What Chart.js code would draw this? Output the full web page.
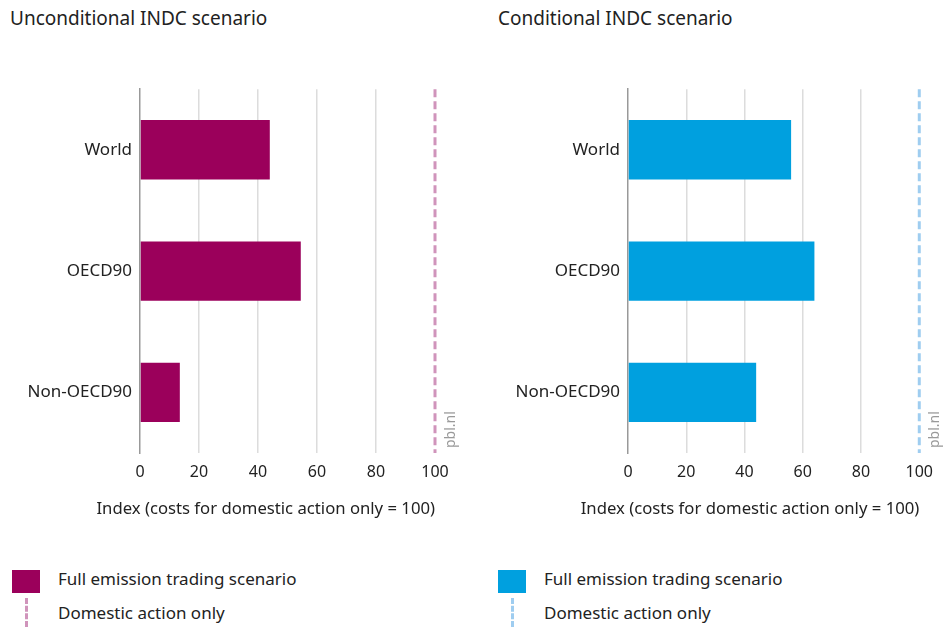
<!DOCTYPE html>
<html>
<head>
<meta charset="utf-8">
<script src="https://cdn.jsdelivr.net/npm/chart.js@4/dist/chart.umd.min.js"></script>
<style>
  body { margin: 0; background: #fff; font-family: 'Noto Sans', sans-serif; color: #222; }
  #page { position: relative; width: 943px; height: 629px; overflow: hidden; }
  .title { position: absolute; top: 5px; font-size: 19px; }
  .box { position: absolute; }
  .legend { position: absolute; top: 566px; font-size: 17px; }
  .swatch { position: absolute; left: 0; top: 4px; width: 28px; height: 23px; }
  .dash { position: absolute; left: 13px; top: 32px; height: 29px; width: 0; border-left: 3px dashed; }
  .label { position: absolute; left: 46px; top: 1px; white-space: nowrap; }
</style>
</head>
<body>
<div id="page">
  <div class="title" style="left:10px">Unconditional INDC scenario</div>
  <div class="title" style="left:498px">Conditional INDC scenario</div>

  <div class="box" style="left:0; top:71px; width:470px; height:452px;"><canvas id="leftChart"></canvas></div>
  <div class="box" style="left:490px; top:71px; width:453px; height:452px;"><canvas id="rightChart"></canvas></div>

  <div class="legend" style="left:12px">
    <div class="swatch" style="background:#9b005b"></div>
    <div class="label">Full emission trading scenario</div>
    <div class="dash" style="border-color:#d094bb"></div>
    <div class="label" style="top:35px">Domestic action only</div>
  </div>
  <div class="legend" style="left:498px">
    <div class="swatch" style="background:#00a0df"></div>
    <div class="label">Full emission trading scenario</div>
    <div class="dash" style="border-color:#9fcdf0"></div>
    <div class="label" style="top:35px">Domestic action only</div>
  </div>
</div>

<script>
const categories = ['World', 'OECD90', 'Non-OECD90'];
const unconditionalValues = [44, 54.5, 13.5];
const conditionalValues = [56, 64, 44];
const domesticOnly = 100;
const xTicks = [0, 20, 40, 60, 80, 100];
const axisTitle = 'Index (costs for domestic action only = 100)';

const tickFont = { family: "'Noto Sans', sans-serif", size: 16 };
const catFont = { family: "'Noto Sans', sans-serif", size: 17 };

// dashed "domestic action only" line, the pbl.nl tag and the axis title
// (drawn here so the title may run wider than the plot without squeezing)
const domesticLine = {
    id: 'domesticLine',
    afterDatasetsDraw(chart, args, opts) {
        const ctx = chart.ctx;
        const area = chart.chartArea;
        const x = chart.scales.x.getPixelForValue(domesticOnly);
        ctx.save();
        ctx.strokeStyle = opts.color;
        ctx.lineWidth = 3;
        ctx.setLineDash([8, 4]);
        ctx.beginPath();
        ctx.moveTo(x, area.top);
        ctx.lineTo(x, area.bottom);
        ctx.stroke();
        ctx.setLineDash([]);

        ctx.fillStyle = '#222';
        ctx.font = "16.7px 'Noto Sans', sans-serif";
        ctx.textAlign = 'right';
        ctx.textBaseline = 'middle';
        ctx.fillText(axisTitle, area.right, area.bottom + 56);

        ctx.translate(x + 9, area.bottom - 5);
        ctx.rotate(-Math.PI / 2);
        ctx.fillStyle = '#999';
        ctx.font = "14px 'Noto Sans', sans-serif";
        ctx.textAlign = 'left';
        ctx.textBaseline = 'top';
        ctx.fillText('pbl.nl', 0, 0);
        ctx.restore();
    }
};

function makeChart(id, values, color, lineColor, axisWidth, rightPad) {
    new Chart(document.getElementById(id), {
        type: 'bar',
        data: {
            labels: categories,
            datasets: [{
                data: values,
                backgroundColor: color,
                borderWidth: 0,
                barPercentage: 0.49,
                categoryPercentage: 1
            }]
        },
        options: {
            indexAxis: 'y',
            responsive: true,
            maintainAspectRatio: false,
            animation: false,
            layout: { padding: { top: 0, right: rightPad, left: 0, bottom: 0 } },
            plugins: {
                legend: { display: false },
                tooltip: { enabled: false },
                domesticLine: { color: lineColor }
            },
            scales: {
                x: {
                    type: 'linear',
                    min: 0,
                    max: 100,
                    afterBuildTicks: (scale) => { scale.ticks = xTicks.map(v => ({ value: v })); },
                    afterFit: (scale) => { scale.height = 70; },
                    grid: {
                        drawTicks: false,
                        color: (c) => (c.tick && (c.tick.value === 0 || c.tick.value === domesticOnly)) ? 'rgba(0,0,0,0)' : '#dcdcdc',
                        lineWidth: 1.5
                    },
                    border: { display: false },
                    ticks: { font: tickFont, color: '#222', padding: 10, maxRotation: 0 }
                },
                y: {
                    grid: { display: false, drawTicks: false },
                    border: { display: true, color: '#999', width: 1.5 },
                    ticks: { font: catFont, color: '#222', padding: 8 },
                    afterFit: (scale) => { scale.width = axisWidth; }
                }
            }
        },
        plugins: [domesticLine]
    });
}

makeChart('leftChart', unconditionalValues, '#9b005b', '#d094bb', 140, 35);
makeChart('rightChart', conditionalValues, '#00a0df', '#9fcdf0', 138, 19);
</script>
</body>
</html>
